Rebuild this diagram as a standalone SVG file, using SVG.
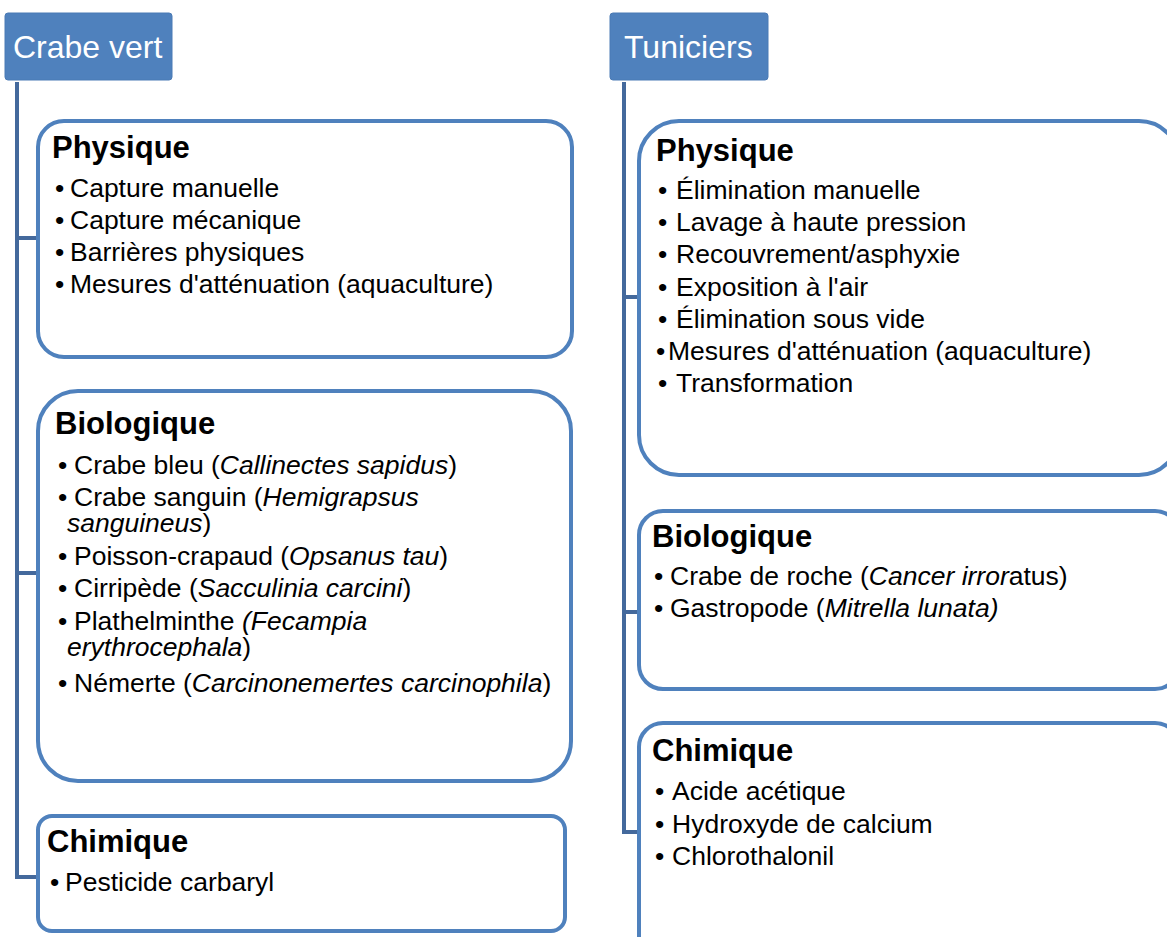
<svg xmlns="http://www.w3.org/2000/svg" width="1167" height="937" viewBox="0 0 1167 937">
<style>
.hdr{fill:#4F81BD;stroke:#4A7AB5;stroke-width:1}
.hdrt{font-family:"Liberation Sans",Arial,sans-serif;font-size:32px;fill:#fff}
.box{fill:#fff;stroke:#4F81BD;stroke-width:4}
.ttl{font-family:"Liberation Sans",Arial,sans-serif;font-size:31px;font-weight:bold;fill:#000}
.itm{font-family:"Liberation Sans",Arial,sans-serif;font-size:26.5px;fill:#000}
.conn{fill:none;stroke:#44699C;stroke-width:4}
</style>
<g id="connectors">
<path class="conn" d="M17 82 V877 H37 M17 238 H37 M17 573 H37"/>
<path class="conn" d="M624 82 V832 H638 M624 297 H638 M624 612 H638"/>
</g>
<g id="crabe-vert">
<rect class="hdr" x="5" y="13" width="167" height="67" rx="3"/>
<text class="hdrt" x="13" y="58">Crabe vert</text>
</g>
<g id="cv-physique">
<rect class="box" x="38" y="121" width="534" height="236" rx="26"/>
<text class="ttl" x="52" y="158">Physique</text>
<text class="itm"><tspan x="55" y="197">•</tspan><tspan x="70">Capture manuelle</tspan><tspan x="55" y="229">•</tspan><tspan x="70">Capture mécanique</tspan><tspan x="55" y="261">•</tspan><tspan x="70">Barrières physiques</tspan><tspan x="55" y="293">•</tspan><tspan x="70">Mesures d'atténuation (aquaculture)</tspan></text>
</g>
<g id="cv-biologique">
<rect class="box" x="38" y="391" width="533" height="390" rx="40"/>
<text class="ttl" x="55" y="434">Biologique</text>
<text class="itm"><tspan x="58" y="474">•</tspan><tspan x="74">Crabe bleu (</tspan><tspan font-style="italic">Callinectes sapidus</tspan><tspan>)</tspan>
<tspan x="58" y="506">•</tspan><tspan x="74">Crabe sanguin (</tspan><tspan font-style="italic">Hemigrapsus</tspan>
<tspan x="67" y="532" font-style="italic">sanguineus</tspan><tspan>)</tspan>
<tspan x="58" y="565">•</tspan><tspan x="74">Poisson-crapaud (</tspan><tspan font-style="italic">Opsanus tau</tspan><tspan>)</tspan>
<tspan x="58" y="597">•</tspan><tspan x="74">Cirripède (</tspan><tspan font-style="italic">Sacculinia carcini</tspan><tspan>)</tspan>
<tspan x="58" y="630">•</tspan><tspan x="74">Plathelminthe </tspan><tspan font-style="italic">(Fecampia</tspan>
<tspan x="67" y="656" font-style="italic">erythrocephala</tspan><tspan>)</tspan>
<tspan x="58" y="692">•</tspan><tspan x="74">Némerte (</tspan><tspan font-style="italic">Carcinonemertes carcinophila</tspan><tspan>)</tspan></text>
</g>
<g id="cv-chimique">
<rect class="box" x="38" y="816" width="527" height="115" rx="14"/>
<text class="ttl" x="47" y="852">Chimique</text>
<text class="itm"><tspan x="50" y="891">•</tspan><tspan x="65">Pesticide carbaryl</tspan></text>
</g>
<g id="tuniciers">
<rect class="hdr" x="610" y="13" width="158" height="67" rx="3"/>
<text class="hdrt" x="624" y="58">Tuniciers</text>
</g>
<g id="tu-physique">
<rect class="box" x="639" y="121" width="540" height="354" rx="40"/>
<text class="ttl" x="656" y="161">Physique</text>
<text class="itm"><tspan x="658" y="199">•</tspan><tspan x="676">Élimination manuelle</tspan>
<tspan x="658" y="231">•</tspan><tspan x="676">Lavage à haute pression</tspan>
<tspan x="658" y="263">•</tspan><tspan x="676">Recouvrement/asphyxie</tspan>
<tspan x="658" y="296">•</tspan><tspan x="676">Exposition à l'air</tspan>
<tspan x="658" y="328">•</tspan><tspan x="676">Élimination sous vide</tspan>
<tspan x="656" y="360">•</tspan><tspan x="668">Mesures d'atténuation (aquaculture)</tspan>
<tspan x="658" y="392">•</tspan><tspan x="676">Transformation</tspan></text>
</g>
<g id="tu-biologique">
<rect class="box" x="639" y="511" width="540" height="178" rx="24"/>
<text class="ttl" x="652" y="547">Biologique</text>
<text class="itm"><tspan x="654" y="585">•</tspan><tspan x="670">Crabe de roche (</tspan><tspan font-style="italic">Cancer irror</tspan><tspan>atus)</tspan>
<tspan x="654" y="617">•</tspan><tspan x="670">Gastropode (</tspan><tspan font-style="italic">Mitrella lunata)</tspan></text>
</g>
<g id="tu-chimique">
<rect class="box" x="639" y="723" width="540" height="240" rx="24"/>
<text class="ttl" x="652" y="761">Chimique</text>
<text class="itm"><tspan x="655" y="800">•</tspan><tspan x="672">Acide acétique</tspan>
<tspan x="655" y="833">•</tspan><tspan x="672">Hydroxyde de calcium</tspan>
<tspan x="655" y="865">•</tspan><tspan x="672">Chlorothalonil</tspan></text>
</g>
</svg>
